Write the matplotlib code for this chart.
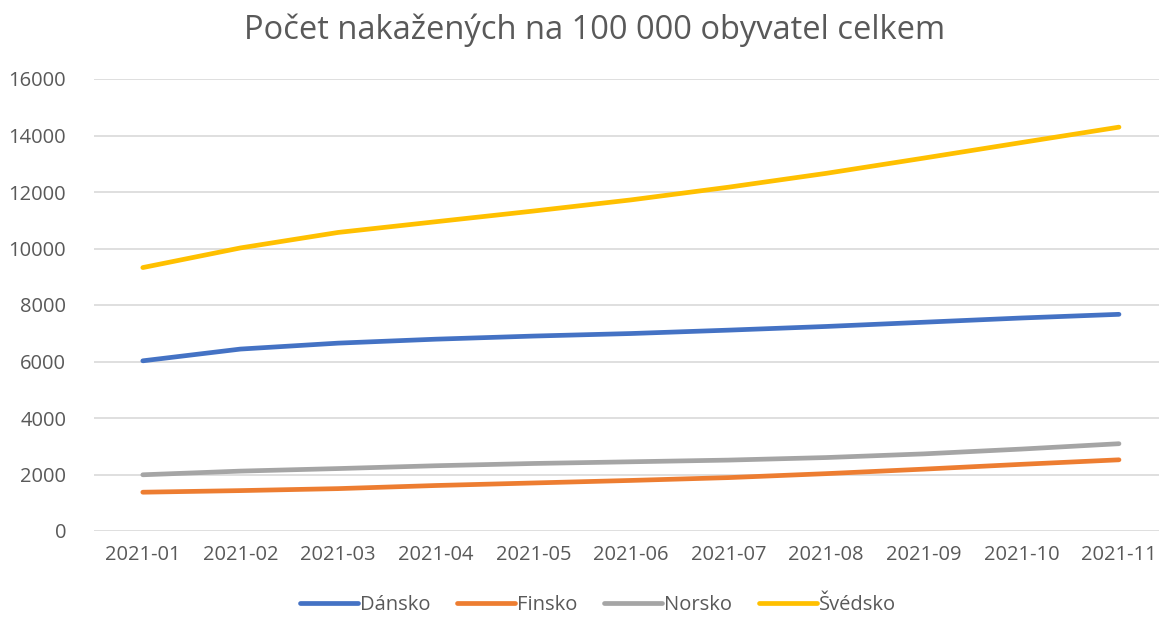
import matplotlib.pyplot as plt
import numpy as np

months = ["2021-01", "2021-02", "2021-03", "2021-04", "2021-05", "2021-06",
          "2021-07", "2021-08", "2021-09", "2021-10", "2021-11"]

dansko = [6024, 6440, 6650, 6790, 6900, 6990, 7110, 7240, 7390, 7540, 7670]
finsko = [1373, 1430, 1500, 1610, 1700, 1790, 1890, 2030, 2190, 2360, 2520]
norsko = [1990, 2120, 2210, 2310, 2390, 2450, 2510, 2600, 2730, 2900, 3090]
svedsko = [9325, 10020, 10568, 10947, 11325, 11720, 12170, 12660, 13200, 13750, 14296]

series = [("Dánsko", dansko, "#4472C4"),
          ("Finsko", finsko, "#ED7D31"),
          ("Norsko", norsko, "#A5A5A5"),
          ("Švédsko", svedsko, "#FFC000")]

plt.rcParams['font.family'] = ['Open Sans', 'DejaVu Sans']
text_color = '#595959'

fig = plt.figure(figsize=(11.59, 6.22), dpi=100)
ax = fig.add_axes([94 / 1159, 91 / 622, 1 - 94 / 1159, 452 / 622])

x = np.arange(len(months))
for name, vals, col in series:
    ax.plot(x, vals, color=col, linewidth=3.4, solid_capstyle='round', label=name)

ax.set_ylim(0, 16000)
ax.set_yticks(np.arange(0, 16001, 2000))
ax.set_xlim(-0.5, 10.41)
ax.set_xticks(x)
ax.set_xticklabels(months)
ax.grid(axis='y', color='#D9D9D9', linewidth=1.2)
ax.set_axisbelow(True)
for s in ax.spines.values():
    s.set_visible(False)
ax.tick_params(axis='both', length=0, labelsize=14.5, colors=text_color)
ax.tick_params(axis='x', pad=10)
ax.tick_params(axis='y', pad=20)

fig.suptitle("Počet nakažených na 100 000 obyvatel celkem", x=0.513, y=0.978,
             fontsize=23.5, color=text_color)

fig.legend(loc='lower center', ncol=4, frameon=False, fontsize=14.5,
           bbox_to_anchor=(0.516, -0.018), handlelength=2.9, handletextpad=0.1,
           columnspacing=1.3, labelcolor=text_color)

fig.savefig("out.png", dpi=100)
